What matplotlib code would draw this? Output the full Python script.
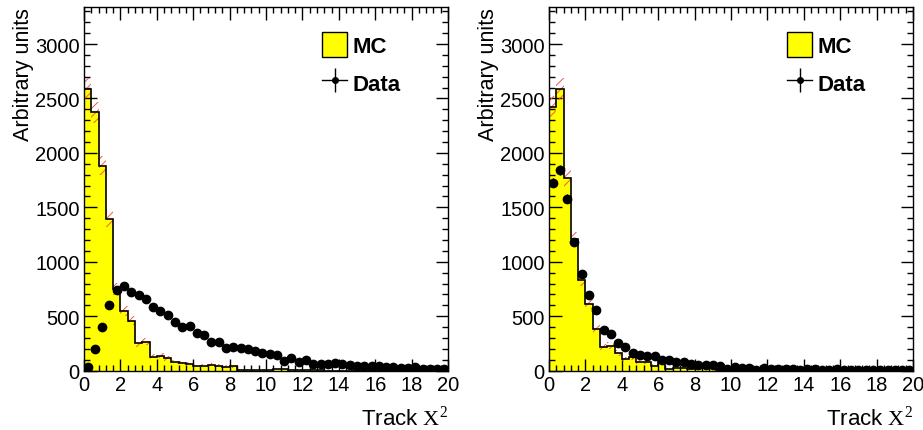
import numpy as np
import matplotlib
matplotlib.use("Agg")
from matplotlib import pyplot as plt
from matplotlib.ticker import MultipleLocator
from matplotlib.patches import Patch
from matplotlib.lines import Line2D

plt.rcParams['font.family'] = ['Liberation Sans', 'DejaVu Sans']
plt.rcParams['mathtext.fontset'] = 'custom'
plt.rcParams['mathtext.rm'] = 'Liberation Serif'
plt.rcParams['hatch.linewidth'] = 0.7

# 50 bins of width 0.4 between 0 and 20
edges = np.linspace(0, 20, 51)
centers = 0.5 * (edges[:-1] + edges[1:])

mc_left = [2585, 2373, 1882, 1397, 752, 547, 460, 252, 267, 129,
           138, 114, 77, 68, 65, 46, 46, 52, 46, 37,
           40, 9, 10, 6, 10, 8, 12, 12, 5, 10,
           3, 2, 2, 1, 1, 1, 1, 0, 0, 0,
           0, 0, 0, 0, 0, 0, 0, 0, 0, 0]
data_left = [31, 200, 405, 605, 737, 777, 722, 691, 654, 584,
             547, 507, 451, 400, 409, 344, 329, 267, 267, 206,
             215, 206, 197, 180, 158, 150, 144, 88, 112, 83,
             97, 65, 65, 65, 71, 62, 52, 46, 40, 40,
             46, 31, 31, 25, 25, 31, 15, 15, 15, 15]

mc_right = [2425, 2585, 1774, 1206, 835, 614, 384, 215, 230, 163,
            108, 123, 83, 80, 46, 86, 16, 25, 25, 16,
            37, 31, 22, 5, 6, 4, 3, 2, 2, 1,
            1, 1, 0, 0, 0, 0, 0, 0, 0, 0,
            0, 0, 0, 0, 0, 0, 0, 0, 0, 0]
data_right = [1727, 1842, 1581, 1180, 890, 691, 553, 378, 338, 252,
              215, 160, 145, 139, 133, 102, 102, 77, 77, 62,
              56, 56, 52, 46, 16, 31, 25, 25, 9, 22,
              16, 15, 12, 14, 10, 14, 12, 8, 10, 12,
              8, 10, 8, 10, 8, 10, 6, 8, 6, 6]

fig = plt.figure(figsize=(9.23, 4.31), dpi=100)
ax1 = fig.add_axes([0.091, 0.1376, 0.3944, 0.8438])
ax2 = fig.add_axes([0.5948, 0.1376, 0.3944, 0.8438])


def draw(ax, mc, data):
    mc = np.array(mc, dtype=float)
    data = np.array(data, dtype=float)
    err = 2 * np.sqrt(mc)
    ax.stairs(mc, edges, fill=True, color='#ffff00', zorder=1)
    ax.stairs(mc + err, edges, baseline=np.clip(mc - err, 0, None), fill=True,
              facecolor='none', edgecolor='#ff5050', hatch='////', linewidth=0, zorder=2)
    ax.stairs(mc, edges, color='black', linewidth=1.2, zorder=3)
    ax.errorbar(centers, data, yerr=np.sqrt(data), xerr=0.2, fmt='o', color='black',
                markersize=6, elinewidth=1, capsize=0, zorder=4)

    ax.set_xlim(0, 20)
    ax.set_ylim(0, 3340)
    ax.xaxis.set_major_locator(MultipleLocator(2))
    ax.xaxis.set_minor_locator(MultipleLocator(0.4))
    ax.yaxis.set_major_locator(MultipleLocator(500))
    ax.yaxis.set_minor_locator(MultipleLocator(100))
    ax.tick_params(which='both', direction='in', top=True, right=True, labelsize=14.5)
    ax.tick_params(which='major', length=9, width=1)
    ax.tick_params(which='minor', length=4.5, width=1)
    ax.tick_params(axis='y', pad=3)
    ax.tick_params(axis='x', pad=3)
    ax.set_ylabel('Arbitrary units', fontsize=15.5, loc='top', labelpad=1)
    ax.set_xlabel(r'Track $\mathrm{X}^{2}$', fontsize=16, loc='right', labelpad=8)

    data_handle = (Line2D([], [], color='black', marker='o', markersize=4, linewidth=1),
                   Line2D([], [], color='black', marker='|', markersize=17,
                          markeredgewidth=1, linestyle='none'))
    handles = [Patch(facecolor='#ffff00', edgecolor='black', linewidth=1), data_handle]
    ax.legend(handles, ['MC', 'Data'], loc='upper left', bbox_to_anchor=(0.6, 0.985),
              frameon=False, prop={'size': 16, 'weight': 'bold'},
              handlelength=1.1, handleheight=1.3, handletextpad=0.25, labelspacing=0.6)
    for sp in ax.spines.values():
        sp.set_linewidth(1)


draw(ax1, mc_left, data_left)
draw(ax2, mc_right, data_right)

plt.savefig('out.png', dpi=100)
